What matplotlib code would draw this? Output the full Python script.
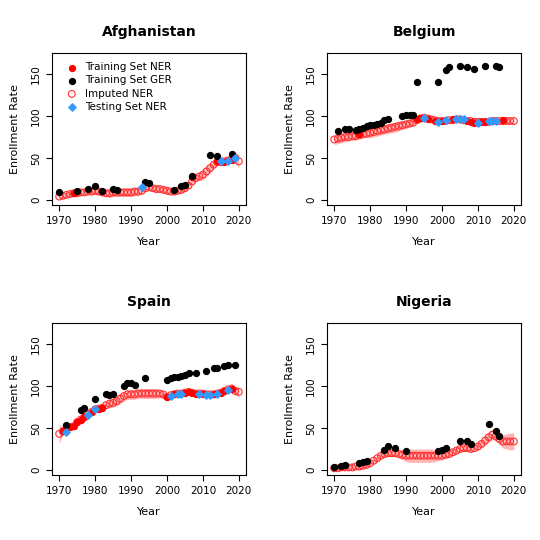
import numpy as np
import matplotlib.pyplot as plt

years = np.arange(1970, 2021)

# imputed NER per year 1970-2020 and half-width of the uncertainty band
afg_imp = [4, 5, 6, 7, 8, 8, 9, 9, 10, 10, 11, 10, 9, 8, 8, 9, 9, 9, 9, 9, 9,
           10, 10, 11, 14, 15, 14, 13, 13, 12, 11, 10, 10, 11, 12, 14, 17, 22, 26, 28, 30,
           34, 38, 42, 45, 45, 46, 47, 48, 50, 46]
afg_band = [3, 3, 3, 3, 3, 3, 3, 3, 3, 4, 4, 4, 4, 4, 5, 5, 5, 5, 5, 5, 5,
            5, 5, 4, 3, 3, 3, 4, 4, 4, 4, 4, 4, 4, 4, 4, 4, 3, 4, 5, 6,
            6, 6, 5, 3, 3, 3, 3, 3, 6, 8]
bel_imp = [72, 73, 74, 75, 75, 76, 76, 77, 78, 79, 80, 81, 82, 83, 84, 85, 86, 87, 88, 89, 90,
           91, 92, 95, 97, 98, 97, 96, 95, 94, 94, 94, 95, 95, 96, 96, 95, 94, 94, 93, 93,
           93, 93, 93, 94, 94, 94, 94, 94, 94, 94]
bel_band = [6, 6, 6, 6, 5, 5, 5, 3, 3, 5, 6, 6, 6, 6, 6, 6, 6, 6, 6, 5, 5,
            4, 4, 3, 3, 3, 3, 3, 3, 3, 3, 3, 3, 3, 3, 3, 3, 3, 3, 3, 3,
            3, 3, 3, 3, 3, 3, 3, 3, 3, 4]
esp_imp = [43, 46, 48, 51, 52, 57, 60, 63, 66, 69, 72, 73, 74, 77, 79, 80, 82, 85, 88, 90, 90,
           90, 91, 91, 91, 91, 91, 91, 91, 90, 87, 89, 90, 91, 91, 92, 93, 92, 91, 91, 91,
           90, 90, 90, 91, 92, 94, 96, 97, 94, 93]
esp_band = [12, 4, 3, 3, 3, 3, 3, 3, 3, 3, 3, 3, 3, 4, 5, 5, 6, 6, 6, 6, 6,
            6, 6, 6, 6, 6, 6, 6, 5, 4, 3, 3, 3, 3, 3, 3, 3, 3, 3, 3, 3,
            3, 3, 3, 3, 3, 3, 3, 3, 5, 6]
nga_imp = [2, 2, 3, 3, 3, 3, 4, 4, 5, 6, 8, 11, 14, 17, 19, 20, 20, 20, 19, 18, 17,
           17, 17, 17, 17, 17, 17, 17, 17, 17, 17, 18, 19, 21, 23, 25, 26, 26, 25, 26, 28,
           31, 35, 39, 42, 40, 37, 34, 34, 34, 34]
nga_band = [3, 3, 3, 3, 3, 3, 3, 3, 3, 3, 3, 3, 4, 4, 4, 4, 4, 4, 5, 6, 7,
            8, 8, 8, 8, 8, 8, 8, 7, 6, 5, 4, 4, 4, 4, 4, 4, 4, 4, 4, 5,
            5, 6, 6, 6, 6, 7, 8, 9, 10, 10]

# observed points: (years, values)
afg_ner = ([1974, 2007, 2014, 2016, 2018], [8, 27, 46, 45, 48])
afg_ger = ([1970, 1975, 1978, 1980, 1982, 1985, 1986, 1994, 1995, 2002, 2004, 2005, 2007, 2012, 2014, 2018],
           [9, 11, 13, 17, 11, 13, 12, 21, 20, 12, 17, 18, 29, 53, 52, 55])
afg_test = ([1993, 2015, 2017, 2019], [15, 46, 46, 50])

bel_ner = ([1977, 1993, 1994, 1996, 1998, 2000, 2003, 2007, 2008, 2009, 2011, 2012, 2017],
           [78, 96, 98, 97, 94, 94, 96, 94, 93, 92, 93, 93, 95])
bel_ger = ([1971, 1973, 1974, 1976, 1977, 1978, 1979, 1980, 1981, 1982, 1983, 1984, 1985,
            1989, 1990, 1991, 1992, 1993, 1999, 2001, 2002, 2005, 2007, 2009, 2012, 2015, 2016],
           [82, 84, 84, 83, 84, 86, 88, 89, 89, 91, 92, 95, 97,
            100, 101, 101, 101, 141, 141, 155, 158, 160, 158, 156, 160, 160, 158])
bel_test = ([1995, 1999, 2001, 2004, 2005, 2006, 2010, 2013, 2014, 2015],
            [98, 93, 95, 97, 97, 97, 92, 94, 94, 94])

esp_ner = ([1971, 1973, 1974, 1975, 1976, 1977, 1979, 1981, 1982, 2000, 2002, 2005, 2006, 2007, 2008,
            2010, 2013, 2015, 2016, 2018],
           [46, 51, 52, 57, 60, 63, 69, 73, 74, 87, 90, 92, 93, 92, 91, 91, 90, 92, 94, 97])
esp_ger = ([1972, 1976, 1977, 1980, 1983, 1984, 1985, 1988, 1989, 1990, 1991, 1994, 2000, 2001, 2002,
            2003, 2004, 2005, 2006, 2008, 2011, 2013, 2014, 2016, 2017, 2019],
           [54, 71, 74, 84, 90, 89, 91, 100, 103, 104, 101, 109, 107, 109, 111, 111, 112, 113, 116,
            116, 118, 122, 122, 124, 125, 125])
esp_test = ([1972, 1978, 1980, 2001, 2003, 2004, 2009, 2011, 2012, 2014, 2017],
            [45, 66, 72, 88, 91, 91, 91, 89, 89, 91, 95])

nga_ner = ([], [])
nga_ger = ([1970, 1972, 1973, 1977, 1978, 1979, 1984, 1985, 1987, 1990, 1999, 2000, 2001, 2005,
            2007, 2008, 2013, 2015, 2016],
           [4, 5, 6, 8, 10, 11, 24, 28, 26, 23, 23, 24, 26, 34, 34, 31, 55, 46, 41])
nga_test = ([], [])

panels = [
    ('Afghanistan', afg_imp, afg_band, afg_ner, afg_ger, afg_test),
    ('Belgium', bel_imp, bel_band, bel_ner, bel_ger, bel_test),
    ('Spain', esp_imp, esp_band, esp_ner, esp_ger, esp_test),
    ('Nigeria', nga_imp, nga_band, nga_ner, nga_ger, nga_test),
]

fig = plt.figure(figsize=(5.4, 5.4), dpi=100)
boxes = [(52, 53), (327, 53), (52, 323), (327, 323)]
W, H = 194, 152

for (name, imp, band, ner, ger, test), (x0, y0) in zip(panels, boxes):
    ax = fig.add_axes([x0 / 540, 1 - (y0 + H) / 540, W / 540, H / 540])
    imp = np.array(imp)
    band = np.array(band)
    ax.fill_between(years, imp - band, imp + band, color='#ffaaaa', alpha=0.85, lw=0)
    ax.scatter(years, imp, s=24, facecolors='none', edgecolors='#ff3030', lw=0.8, label='Imputed NER')
    ax.scatter(*ner, s=18, color='red', label='Training Set NER', zorder=3)
    ax.scatter(*ger, s=18, color='black', label='Training Set GER', zorder=3)
    ax.scatter(*test, s=14, color='#3399ff', marker='D', label='Testing Set NER', zorder=4)
    ax.set_xlim(1968, 2022)
    ax.set_ylim(-6, 175)
    ax.set_xticks([1970, 1980, 1990, 2000, 2010, 2020])
    ax.set_yticks([0, 50, 100, 150])
    ax.set_yticklabels(['0', '50', '100', '150'], rotation=90, va='center')
    ax.tick_params(labelsize=7.5, length=4, pad=4)
    ax.set_xlabel('Year', fontsize=8, labelpad=8)
    ax.set_ylabel('Enrollment Rate', fontsize=8, labelpad=8)
    ax.set_title(name, fontsize=10, fontweight='bold', pad=12)
    if name == 'Afghanistan':
        h, l = ax.get_legend_handles_labels()
        order = [1, 2, 0, 3]
        ax.legend([h[i] for i in order], [l[i] for i in order], loc='upper left',
                  frameon=False, fontsize=7.5, handletextpad=0.3, borderaxespad=0.5,
                  labelspacing=0.3)

plt.savefig('out.png', dpi=100)
